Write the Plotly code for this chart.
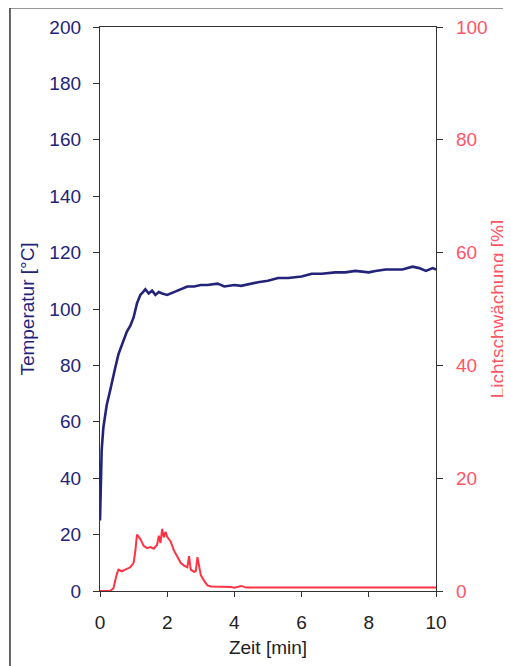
import plotly.graph_objects as go

# Temperature (left axis)
t_temp = [0, 0.02, 0.05, 0.1, 0.15, 0.2, 0.3, 0.4, 0.45, 0.55, 0.7, 0.8, 0.9, 1.0, 1.1, 1.2, 1.28, 1.35,
          1.45, 1.55, 1.65, 1.75, 1.85, 2.0, 2.2, 2.3, 2.45, 2.6, 2.8, 3.0, 3.2, 3.5, 3.7, 4.0, 4.2, 4.5,
          4.7, 5.0, 5.3, 5.6, 6.0, 6.3, 6.6, 7.0, 7.3, 7.6, 8.0, 8.2, 8.5, 8.8, 9.0, 9.3, 9.5, 9.7, 9.9, 10.0]
temp = [25, 38, 50, 58, 62, 66, 71, 77, 79, 84, 89, 92, 94, 97, 102, 105, 106, 107,
        105.5, 106.5, 105, 106, 105.5, 105, 106, 106.5, 107.5, 108, 108, 108.5, 108.5, 109, 108, 108.5, 108.2, 109,
        109.5, 110, 111, 111, 111.5, 112.5, 112.5, 113, 113, 113.5, 113, 113.5, 114, 114, 114, 115, 114.5, 113.5, 114.5, 114]

# Light attenuation (right axis)
t_licht = [0, 0.3, 0.4, 0.45, 0.5, 0.55, 0.65, 0.75, 0.9, 1.0, 1.05, 1.1, 1.2, 1.3, 1.4, 1.5, 1.6, 1.7,
           1.75, 1.8, 1.85, 1.9, 1.95, 2.0, 2.1, 2.2, 2.3, 2.4, 2.5, 2.6, 2.65, 2.7, 2.8, 2.85, 2.9, 3.0,
           3.1, 3.2, 3.3, 3.6, 3.9, 4.0, 4.2, 4.35, 4.5, 6, 8, 10]
licht = [0, 0, 0.5, 2, 3, 3.8, 3.5, 3.8, 4.2, 5, 7, 10, 9.2, 8, 7.6, 7.8, 7.5, 8.2,
         9.8, 8.5, 11, 9.5, 10.5, 9.6, 8.8, 7.2, 6, 5, 4.5, 4.2, 6.2, 3.8, 3.4, 3.5, 6, 2.8,
         1.8, 1.0, 0.8, 0.8, 0.7, 0.6, 0.9, 0.6, 0.6, 0.6, 0.6, 0.6]

x_ticks = [0, 2, 4, 6, 8, 10]
y_ticks = [0, 20, 40, 60, 80, 100, 120, 140, 160, 180, 200]
y2_ticks = [0, 20, 40, 60, 80, 100]

navy = "#23237a"
red = "#ff3344"
red_txt = "#ff5566"

fig = go.Figure()
fig.add_trace(go.Scatter(x=t_temp, y=temp, mode="lines", line=dict(color=navy, width=2.6),
                         name="Temperatur", yaxis="y"))
fig.add_trace(go.Scatter(x=t_licht, y=licht, mode="lines", line=dict(color=red, width=2),
                         name="Lichtschwächung", yaxis="y2"))

font = "Liberation Sans, Arial, sans-serif"
fig.update_layout(
    width=503, height=658,
    margin=dict(l=92, r=75, t=19, b=75, autoexpand=False),
    paper_bgcolor="white", plot_bgcolor="white",
    showlegend=False,
    font=dict(family=font, size=19, color="#222222"),
    xaxis=dict(range=[0, 10], tickvals=x_ticks, showgrid=False, zeroline=False,
               showline=True, linecolor="#333333", linewidth=1.3, mirror=True,
               ticks="outside", ticklen=5, tickcolor="#333333", ticklabelstandoff=9,
               tickfont=dict(size=19, color="#222222"),
               title=dict(text="Zeit [min]", font=dict(size=19, color="#222222"), standoff=8)),
    yaxis=dict(range=[0, 200], tickvals=y_ticks, showgrid=False, zeroline=False,
               showline=True, linecolor="#333333", linewidth=1.3,
               ticks="outside", ticklen=6, tickcolor="#333333", ticklabelstandoff=8,
               tickfont=dict(size=19, color=navy),
               title=dict(text="Temperatur [°C]", font=dict(size=19, color=navy), standoff=9)),
    yaxis2=dict(range=[0, 100], tickvals=y2_ticks, overlaying="y", side="right",
                showgrid=False, zeroline=False,
                showline=True, linecolor="#333333", linewidth=1.3,
                ticks="outside", ticklen=6, tickcolor="#333333", ticklabelstandoff=9,
                tickfont=dict(size=19, color=red_txt),
                title=dict(text="Lichtschwächung [%]", font=dict(size=19, color=red_txt), standoff=4)),
)

# outer frame of the figure
fig.add_shape(type="rect", xref="paper", yref="paper", x0=-0.268, x1=1.35, y0=-0.3, y1=1.034,
              line=dict(color="#333333", width=1.5), fillcolor="rgba(0,0,0,0)", layer="below")

fig.write_html("out.html")
